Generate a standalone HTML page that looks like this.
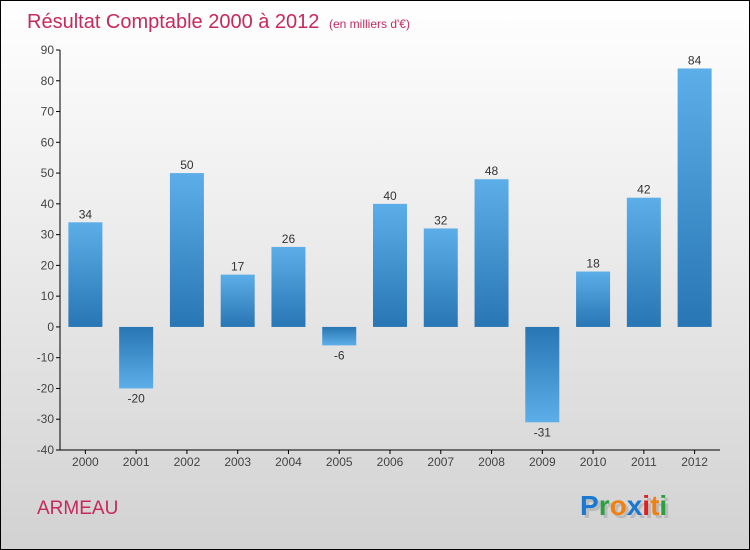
<!DOCTYPE html>
<html><head><meta charset="utf-8"><style>
body{margin:0}
svg{display:block;font-family:"Liberation Sans",sans-serif}
</style></head><body>
<svg id="c" width="750" height="550" xmlns="http://www.w3.org/2000/svg">
<defs>
<linearGradient id="bg" x1="0" y1="0" x2="0" y2="1"><stop offset="0" stop-color="#ffffff"/><stop offset="1" stop-color="#d2d2d2"/></linearGradient>
<linearGradient id="pos" x1="0" y1="0" x2="0" y2="1"><stop offset="0" stop-color="#5caee8"/><stop offset="1" stop-color="#2876b4"/></linearGradient>
<linearGradient id="neg" x1="0" y1="0" x2="0" y2="1"><stop offset="0" stop-color="#2876b4"/><stop offset="1" stop-color="#5caee8"/></linearGradient>
</defs>
<rect x="0.5" y="0.5" width="749" height="549" fill="url(#bg)" stroke="#000"/>
<text x="27" y="28" font-size="20" fill="#c8285a">Résultat Comptable 2000 à 2012 <tspan font-size="12" dx="4">(en milliers d'€)</tspan></text>
<g id="axes"></g>
<g id="bars"></g>
<text x="37" y="514" font-size="19" fill="#c8285a">ARMEAU</text>
<g font-size="28" font-weight="bold">
<text x="583" y="518" fill="#bbb">Proxiti</text>
<text x="580" y="515"><tspan fill="#1a78d0">P</tspan><tspan fill="#2aa040">r</tspan><tspan fill="#f08010">o</tspan><tspan fill="#1a78d0">x</tspan><tspan fill="#e02020">i</tspan><tspan fill="#f08010">t</tspan><tspan fill="#2aa040">i</tspan></text>
</g>
</svg>
<script>
const categories=["2000","2001","2002","2003","2004","2005","2006","2007","2008","2009","2010","2011","2012"];
const values=[34,-20,50,17,26,-6,40,32,48,-31,18,42,84];
const yTicks=[90,80,70,60,50,40,30,20,10,0,-10,-20,-30,-40];
const NS="http://www.w3.org/2000/svg";
const x0=60,x1=720,yTop=50,yBot=450,vMax=90,vMin=-40;
const band=(x1-x0)/categories.length;
const y=v=>yTop+(vMax-v)/(vMax-vMin)*(yBot-yTop);
const xc=i=>x0+band*(i+0.5);
function mk(tag,attrs,parent){const e=document.createElementNS(NS,tag);for(const k in attrs)e.setAttribute(k,attrs[k]);parent.appendChild(e);return e;}
const ax=document.getElementById('axes'),bs=document.getElementById('bars');
let l=mk('line',{x1:x0,y1:yTop,x2:x0,y2:yBot,stroke:'#000'},ax);


l=mk('line',{x1:x0,y1:yBot,x2:x1,y2:yBot,stroke:'#000'},ax);


yTicks.forEach(t=>{
  const tk=mk('line',{x1:x0-4,y1:y(t),x2:x0,y2:y(t),stroke:'#000'},ax);
  
  
  const tx=mk('text',{x:x0-6,y:y(t)+4,'font-size':12,fill:'#444','text-anchor':'end'},ax);
  tx.textContent=t;
  
  
});
categories.forEach((c,i)=>{
  const tk=mk('line',{x1:xc(i),y1:yBot,x2:xc(i),y2:yBot+4,stroke:'#000'},ax);
  
  
  const tx=mk('text',{x:xc(i),y:yBot+16,'font-size':12,fill:'#444','text-anchor':'middle'},ax);
  tx.textContent=c;
  
  
  const v=values[i],w=34,top=Math.min(y(v),y(0)),h=Math.abs(y(v)-y(0));
  const r=mk('rect',{x:xc(i)-w/2,y:top,width:w,height:h,fill:v>=0?'url(#pos)':'url(#neg)'},bs);
  
  
  const lb=mk('text',{x:xc(i),y:v>=0?y(v)-4:y(v)+14,'font-size':12,fill:'#333','text-anchor':'middle'},bs);
  lb.textContent=v;
  
  
});
</script>
</body></html>
